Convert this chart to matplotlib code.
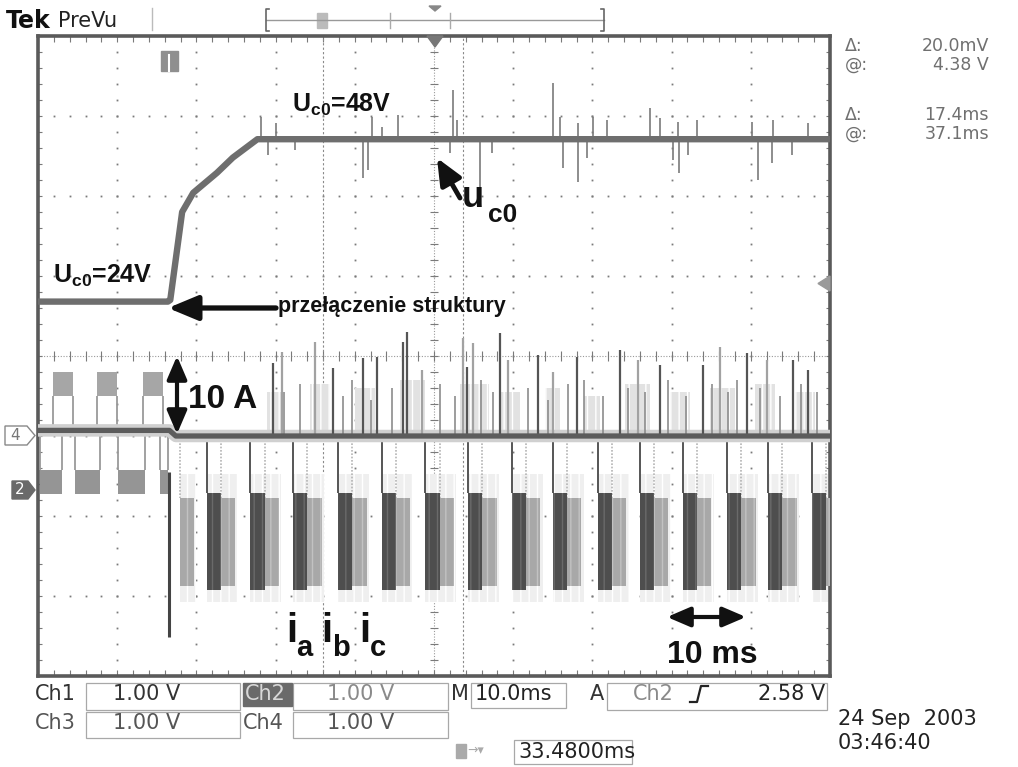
import matplotlib
matplotlib.use("Agg")
import matplotlib.pyplot as plt
from matplotlib.patches import Rectangle, Polygon
import numpy as np

W, H = 1018, 767
# scope screen edges in image pixels
X0, X1, Y0, Y1 = 38, 830, 36, 676

# ---- values: time in ms (0..100), level in divisions (-4..4) ----
# Ch1: capacitor voltage u_c0
uc0_t = [0.0, 16.4, 16.7, 18.2, 19.6, 22.6, 24.6, 27.7, 100.0]
uc0_v = [0.68, 0.68, 0.70, 1.80, 2.04, 2.29, 2.48, 2.71, 2.71]
uc0_level = 2.71
uc0_up_t = [28.2, 30.1, 42.2, 43.4, 45.5, 52.4, 52.9, 65.0, 65.9, 68.2, 70.1, 71.8,
            77.3, 78.5, 80.8, 83.2, 90.2, 92.8, 97.2]
uc0_up_v = [2.99, 2.91, 2.99, 2.86, 3.01, 3.33, 2.95, 3.41, 2.99, 2.91, 2.99, 2.95,
            3.10, 2.98, 2.93, 2.95, 2.93, 2.95, 2.91]
uc0_dn_t = [29.0, 32.4, 41.0, 41.7, 52.0, 55.8, 57.3, 66.3, 68.2, 69.3, 80.2, 80.9,
            82.1, 90.9, 92.7, 95.2]
uc0_dn_v = [2.51, 2.58, 2.23, 2.33, 2.54, 2.11, 2.54, 2.35, 2.18, 2.48, 2.45, 2.29,
            2.51, 2.20, 2.41, 2.51]

# Ch4 trace baseline and its spikes
ch4_t = [0.0, 16.6, 17.4, 100.0]
ch4_v = [-0.93, -0.93, -1.0, -1.0]
ch4_dark_t = [29.7, 37.2, 41.0, 42.8, 46.1, 46.6, 54.2, 58.3, 63.1, 68.1, 73.5, 78.5,
              84.0, 89.5, 95.3, 97.2]
ch4_dark_v = [-0.09, -0.15, -0.03, -0.01, 0.18, 0.30, -0.14, 0.29, 0.01, -0.01, 0.08,
              -0.11, -0.11, 0.04, -0.05, -0.18]
ch4_light_t = [30.8, 35.0, 48.5, 53.7, 54.9, 59.3, 65.0, 75.8, 86.1, 92.0]
ch4_light_v = [0.05, 0.18, -0.18, 0.23, 0.16, -0.05, -0.20, -0.05, 0.11, -0.05]
ch4_mid_t = [31.0, 33.1, 38.5, 39.7, 42.0, 44.7, 50.8, 52.6, 55.9, 57.4, 61.9, 64.4,
             66.9, 69.0, 71.3, 74.5, 76.7, 79.6, 81.8, 85.1, 87.1, 88.3, 91.2, 93.7,
             96.4, 98.3]
ch4_mid_v = [-0.45, -0.35, -0.5, -0.3, -0.55, -0.4, -0.35, -0.5, -0.3, -0.45, -0.4,
             -0.55, -0.35, -0.3, -0.5, -0.4, -0.45, -0.3, -0.5, -0.35, -0.45, -0.3,
             -0.4, -0.5, -0.35, -0.45]
fuzz_t = [28.9, 34.3, 40.0, 45.7, 53.3, 58.3, 64.0, 69.0, 74.1, 79.8, 84.8, 90.5, 95.6]
fuzz_w = [1.9, 2.6, 2.5, 3.2, 3.7, 2.5, 1.9, 2.0, 3.2, 2.5, 3.2, 2.5, 2.5]
fuzz_top = [-0.45, -0.35, -0.4, -0.3, -0.35, -0.45, -0.4, -0.5, -0.35, -0.45, -0.4,
            -0.35, -0.45]

# phase currents before the switch
pre_hi_t = [1.9, 7.4, 13.3]
pre_hi_w = [2.5, 2.6, 2.5]
pre_lo_t = [0.25, 4.7, 10.1, 15.4]
pre_lo_w = [2.75, 3.1, 3.4, 1.0]
pre_hi_lvl = (-0.5, -0.2)
pre_lo_lvl = (-1.72, -1.42)

# phase current bursts after the switch
dark_t = [21.3, 26.8, 32.2, 37.9, 43.4, 48.9, 54.3, 59.8, 65.0, 70.7, 76.0, 81.4,
          87.0, 92.2, 97.7]
light_t = [17.9, 23.1, 28.6, 34.0, 39.7, 45.2, 50.7, 56.1, 61.6, 66.8, 72.5, 77.8,
           83.2, 88.8, 94.0, 99.5]
dark_lvl = (-2.93, -1.71)
light_lvl = (-2.88, -1.78)
switch_t = 16.5
switch_lvl = (-3.51, -1.45)

cursor_t = [36.0, 53.7]

fig = plt.figure(figsize=(W / 100, H / 100), dpi=100)
fig.patch.set_facecolor("white")

ax = fig.add_axes([X0 / W, 1 - Y1 / H, (X1 - X0) / W, (Y1 - Y0) / H])
ax.set_xlim(0, 100)
ax.set_ylim(-4, 4)
ax.set_xticks([])
ax.set_yticks([])
ax.patch.set_alpha(0)
for s in ax.spines.values():
    s.set_color("#5a5a5a")
    s.set_linewidth(2.6)

# graticule
sub_y = np.arange(-4, 4.01, 0.2)
sub_x = np.arange(0, 100.1, 2)
gcol = "#7a7a7a"
for gx in [10, 20, 30, 40, 60, 70, 80, 90]:
    ax.plot(np.full_like(sub_y, gx), sub_y, ls="none", marker="s", ms=1.3, mew=0, color=gcol)
for gy in [-3, -2, -1, 1, 2, 3]:
    ax.plot(sub_x, np.full_like(sub_x, gy), ls="none", marker="s", ms=1.3, mew=0, color=gcol)
ax.plot([50, 50], [-4, 4], color="#9a9a9a", lw=0.8, ls=(0, (1, 1.5)))
ax.plot([0, 100], [0, 0], color="#9a9a9a", lw=0.8, ls=(0, (1, 1.5)))
ax.hlines(sub_y, 49.5, 50.5, color=gcol, lw=0.8)
ax.vlines(sub_x, -0.06, 0.06, color=gcol, lw=0.8)
ax.vlines(sub_x, -4, -3.93, color=gcol, lw=0.8)
ax.vlines(sub_x, 3.93, 4, color=gcol, lw=0.8)
ax.hlines(sub_y, 0, 0.5, color=gcol, lw=0.8)
ax.hlines(sub_y, 99.5, 100, color=gcol, lw=0.8)
ax.vlines(cursor_t, -4, 4, color="#8a8a8a", lw=0.8, ls=(0, (2, 2)))

# before switch: phase currents
ax.bar(pre_hi_t, pre_hi_lvl[1] - pre_hi_lvl[0], width=pre_hi_w, bottom=pre_hi_lvl[0],
       align="edge", color="#a6a6a6", lw=0, zorder=3)
ax.bar(pre_lo_t, pre_lo_lvl[1] - pre_lo_lvl[0], width=pre_lo_w, bottom=pre_lo_lvl[0],
       align="edge", color="#959595", lw=0, zorder=3)
ax.vlines(pre_hi_t, -0.93, pre_hi_lvl[0], color="#9a9a9a", lw=1.3, zorder=3)
ax.vlines([a + b for a, b in zip(pre_hi_t, pre_hi_w)], -0.93, pre_hi_lvl[0],
          color="#9a9a9a", lw=1.3, zorder=3)
ax.vlines(pre_lo_t, -0.93, pre_lo_lvl[1], color="#9a9a9a", lw=1.3, zorder=3)
ax.vlines([a + b for a, b in zip(pre_lo_t, pre_lo_w)], -0.93, pre_lo_lvl[1],
          color="#9a9a9a", lw=1.3, zorder=3)

# after switch: burst blocks
blk_w = 1.8
ax.bar(dark_t + light_t, 1.6, width=blk_w + 0.3, bottom=-3.08, align="edge",
       color="#efefef", hatch="||", edgecolor="white", lw=0, zorder=2)
ax.bar(light_t, light_lvl[1] - light_lvl[0], width=blk_w, bottom=light_lvl[0],
       align="edge", color="#a8a8a8", hatch="||", edgecolor="#c2c2c2", lw=0, zorder=3)
ax.bar(dark_t, dark_lvl[1] - dark_lvl[0], width=blk_w, bottom=dark_lvl[0],
       align="edge", color="#4e4e4e", hatch="||", edgecolor="#6a6a6a", lw=0, zorder=4)
ax.vlines(dark_t, -1.05, dark_lvl[1], color="#555555", lw=1.4, zorder=4)
ax.vlines(light_t, -1.05, light_lvl[1], color="#b5b5b5", lw=1.2, ls=(0, (1, 1)), zorder=3)
ax.vlines(switch_t, switch_lvl[0], switch_lvl[1], color="#444444", lw=2.2, zorder=5)

# Ch4 baseline with spikes
ax.bar(fuzz_t, [t + 1.0 for t in fuzz_top], width=fuzz_w, bottom=-1.0, align="edge",
       color="#e2e2e2", hatch="||", edgecolor="white", lw=0, zorder=2)
ax.plot(ch4_t, ch4_v, color="#d0d0d0", lw=9, zorder=4, solid_capstyle="butt")
ax.vlines(ch4_mid_t, -1.0, ch4_mid_v, color="#8c8c8c", lw=1.2, zorder=5)
ax.vlines(ch4_light_t, -1.0, ch4_light_v, color="#a2a2a2", lw=1.6, zorder=5)
ax.vlines(ch4_dark_t, -1.0, ch4_dark_v, color="#555555", lw=1.6, zorder=5)
ax.plot(ch4_t, ch4_v, color="#5c5c5c", lw=3.8, zorder=6, solid_capstyle="butt")

# Ch1: u_c0
ax.vlines(uc0_up_t, uc0_level, uc0_up_v, color="#7a7a7a", lw=1.2, zorder=6)
ax.vlines(uc0_dn_t, uc0_level, uc0_dn_v, color="#7a7a7a", lw=1.2, zorder=6)
ax.plot(uc0_t, uc0_v, color="#6e6e6e", lw=4.6, zorder=7, solid_capstyle="butt")

# ---------- overlay in image pixels ----------
ov = fig.add_axes([0, 0, 1, 1], zorder=5)
ov.set_xlim(0, W)
ov.set_ylim(H, 0)
ov.axis("off")
ov.patch.set_alpha(0)

ui = "DejaVu Sans"
ann = "Liberation Sans"

# header
ov.text(6, 28, "Tek", fontsize=17, fontweight="bold", family=ui, color="#111")
ov.text(58, 27, "PreVu", fontsize=15, family=ui, color="#222")
ov.plot([152, 152], [8, 30], color="#bbb", lw=1)
ov.plot([266, 604], [20, 20], color="#999", lw=1)
ov.plot([269, 266, 266, 269], [9, 9, 31, 31], color="#666", lw=1.2)
ov.plot([601, 604, 604, 601], [9, 9, 31, 31], color="#666", lw=1.2)
ov.plot([390, 390], [13, 28], color="#aaa", lw=1)
ov.plot([450, 450], [13, 28], color="#aaa", lw=1)
ov.add_patch(Rectangle((317, 13), 10, 15, color="#bbb"))
ov.add_patch(Polygon([(429, 6), (441, 6), (435, 11)], color="#888"))
ov.add_patch(Polygon([(427, 36), (443, 36), (435, 47)], color="#777"))
ov.add_patch(Rectangle((161, 51), 17, 20, color="#8f8f8f"))
ov.plot([169.5, 169.5], [55, 71], color="white", lw=1.5)
ov.add_patch(Polygon([(830, 276), (830, 291), (818, 283.5)], color="#9a9a9a"))

# channel markers
ov.add_patch(Polygon([(5, 426), (27, 426), (35, 435.5), (27, 445), (5, 445)],
                     facecolor="white", edgecolor="#888", lw=1))
ov.text(15, 436, "4", fontsize=11, family=ui, color="#777", ha="center", va="center")
ov.add_patch(Polygon([(12, 481), (28, 481), (35, 490), (28, 499), (12, 499)],
                     facecolor="#6a6a6a", edgecolor="#6a6a6a", lw=1))
ov.text(20, 490, "2", fontsize=11, family=ui, color="white", ha="center", va="center")

# cursor readouts
rc = "#707070"
for yy, lab, val in [(46, "\u0394:", "20.0mV"), (65, "@:", "4.38 V"),
                     (115, "\u0394:", "17.4ms"), (134, "@:", "37.1ms")]:
    ov.text(845, yy, lab, fontsize=12.5, family=ui, color=rc, va="center")
    ov.text(989, yy, val, fontsize=12.5, family=ui, color=rc, va="center", ha="right")

# annotations
plt.rcParams["mathtext.fontset"] = "custom"
plt.rcParams["mathtext.rm"] = "Liberation Sans:bold"
plt.rcParams["mathtext.it"] = "Liberation Sans:bold"
plt.rcParams["mathtext.bf"] = "Liberation Sans:bold"
ov.text(292, 112, r"U$_{\rm c0}$=48V", fontsize=18, family=ann, fontweight="bold", color="#111")
ov.text(53, 283, r"U$_{\rm c0}$=24V", fontsize=18, family=ann, fontweight="bold", color="#111")
ov.text(278, 312, "przełączenie struktury", fontsize=15.5, family=ann, fontweight="bold",
        color="#111")
ov.annotate("", xy=(168, 308), xytext=(276, 308),
            arrowprops=dict(arrowstyle="-|>,head_length=1.8,head_width=0.75", lw=3.8,
                            color="#111", shrinkA=0, shrinkB=0))
ov.annotate("", xy=(437, 158), xytext=(460, 198),
            arrowprops=dict(arrowstyle="-|>,head_length=1.6,head_width=0.7", lw=3.5,
                            color="#111", shrinkA=0, shrinkB=0))
ov.text(462, 207, "u", fontsize=26, family=ann, fontweight="bold", color="#111")
ov.text(488, 222, "c0", fontsize=19, family=ann, fontweight="bold", color="#111")
ov.annotate("", xy=(177, 356), xytext=(177, 434),
            arrowprops=dict(arrowstyle="<|-|>,head_length=1.4,head_width=0.6", lw=3,
                            color="#111", shrinkA=0, shrinkB=0))
ov.text(188, 408, "10 A", fontsize=24, family=ann, fontweight="bold", color="#111")
for xi, xs, sub in [(286, 296, "a"), (321, 332, "b"), (359, 370, "c")]:
    ov.text(xi, 642, "i", fontsize=29, family=ann, fontweight="bold", color="#111")
    ov.text(xs, 656, sub, fontsize=21, family=ann, fontweight="bold", color="#111")
ov.annotate("", xy=(667, 617), xytext=(746, 617),
            arrowprops=dict(arrowstyle="<|-|>,head_length=1.4,head_width=0.6", lw=3,
                            color="#111", shrinkA=0, shrinkB=0))
ov.text(667, 663, "10 ms", fontsize=23, family=ann, fontweight="bold", color="#111")

# bottom status bar
fs = 15
bc = "#a8a8a8"
for (x, y, w, h) in [(86, 683, 154, 27), (293, 683, 155, 27), (471, 683, 95, 25),
                     (607, 683, 220, 27), (86, 712, 154, 26), (293, 712, 155, 26),
                     (514, 740, 118, 24)]:
    ov.add_patch(Rectangle((x, y), w, h, fill=False, edgecolor=bc, lw=0.9))
ov.text(35, 694, "Ch1", fontsize=fs, family=ui, color="#333", va="center")
ov.text(113, 694, "1.00 V", fontsize=fs, family=ui, color="#333", va="center")
ov.add_patch(Rectangle((243, 683), 49, 23, color="#6a6a6a"))
ov.text(245, 694, "Ch2", fontsize=fs, family=ui, color="#d8d8d8", va="center")
ov.text(327, 694, "1.00 V", fontsize=fs, family=ui, color="#8a8a8a", va="center")
ov.text(451, 694, "M", fontsize=fs, family=ui, color="#333", va="center")
ov.text(475, 694, "10.0ms", fontsize=fs, family=ui, color="#222", va="center")
ov.text(590, 694, "A", fontsize=fs, family=ui, color="#333", va="center")
ov.text(633, 694, "Ch2", fontsize=fs, family=ui, color="#8a8a8a", va="center")
ov.plot([690, 697, 701, 708], [702, 702, 686, 686], color="#222", lw=1.6)
ov.text(825, 694, "2.58 V", fontsize=fs, family=ui, color="#222", va="center", ha="right")
ov.text(35, 723, "Ch3", fontsize=fs, family=ui, color="#555", va="center")
ov.text(113, 723, "1.00 V", fontsize=fs, family=ui, color="#555", va="center")
ov.text(243, 723, "Ch4", fontsize=fs, family=ui, color="#555", va="center")
ov.text(327, 723, "1.00 V", fontsize=fs, family=ui, color="#555", va="center")
ov.add_patch(Rectangle((456, 744), 10, 14, color="#aaa"))
ov.text(467, 751, "\u2192\u25BE", fontsize=9, family=ui, color="#aaa", va="center")
ov.text(518, 752, "33.4800ms", fontsize=fs, family=ui, color="#222", va="center")
ov.text(838, 719, "24 Sep  2003", fontsize=fs, family=ui, color="#222", va="center")
ov.text(838, 743, "03:46:40", fontsize=fs, family=ui, color="#222", va="center")

fig.savefig("out.png", dpi=100)
